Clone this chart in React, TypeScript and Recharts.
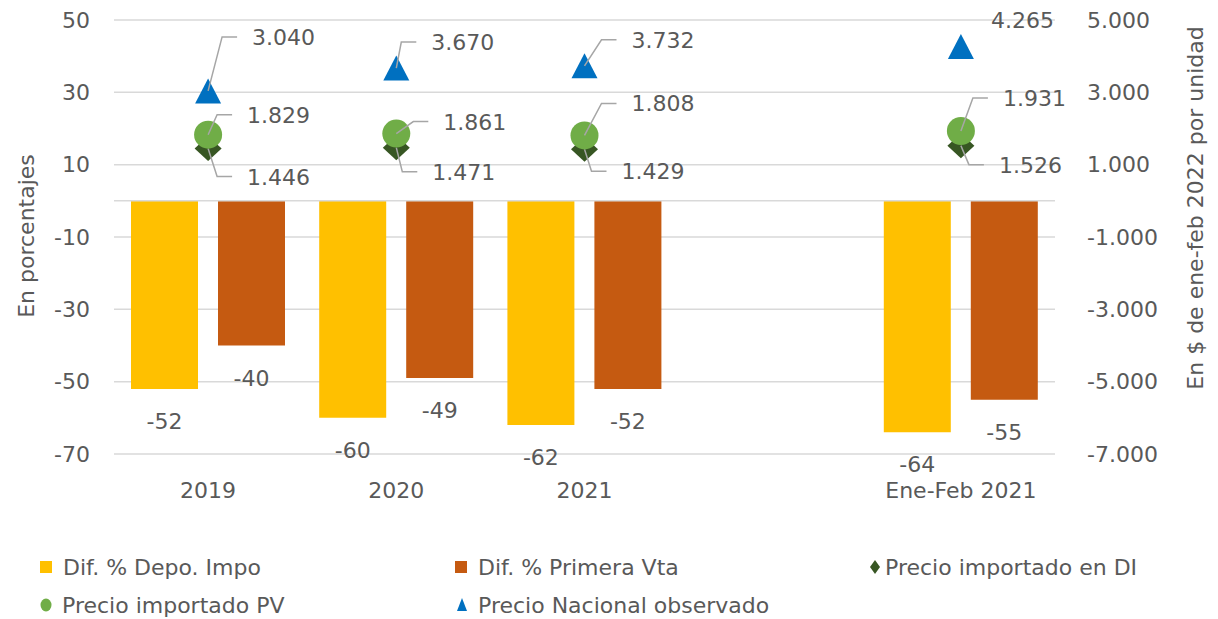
import React from "react";
import {
  ComposedChart,
  Bar,
  Line,
  XAxis,
  YAxis,
  CartesianGrid,
  ReferenceLine,
  LabelList,
} from "recharts";

// ---------- data ----------
const CATEGORIES = ["2019", "2020", "2021", "", "Ene-Feb 2021"];
const DIF_DEPO = [-52, -60, -62, null, -64];
const DIF_PRIMERA = [-40, -49, -52, null, -55];
const PRECIO_DI = [1446, 1471, 1429, null, 1526];
const PRECIO_PV = [1829, 1861, 1808, null, 1931];
const PRECIO_NAC = [3040, 3670, 3732, null, 4265];
const LEFT_TICKS = [-70, -50, -30, -10, 10, 30, 50];
const RIGHT_TICKS = [-7000, -5000, -3000, -1000, 1000, 3000, 5000];
const SERIES_NAMES = [
  "Dif. % Depo. Impo",
  "Dif. % Primera Vta",
  "Precio importado en DI",
  "Precio importado PV",
  "Precio Nacional observado",
];
const LEFT_TITLE = "En porcentajes";
const RIGHT_TITLE = "En $ de ene-feb 2022 por unidad";

// ---------- styling ----------
const FONT = "'DejaVu Sans', sans-serif";
const FS = 22;
const TXT = "#595959";
const GRID = "#d9d9d9";
const LEADER = "#a6a6a6";
const C_DEPO = "#FFC000";
const C_PRIM = "#C55A11";
const C_DI = "#375623";
const C_PV = "#70AD47";
const C_NAC = "#0070C0";

// label offsets (px) relative to marker centre: [text left dx, text centre dy]
const NAC_LABEL_OFFSET = [[44, -54], [35, -26], [47, -26], null, [30, -27]];
const NAC_LEADER = [true, true, true, false, false];
const PV_LABEL_OFFSET = [[39, -20], [47, -12], [47, -32], null, [42, -33]];
const PV_LEADER = [true, true, true, false, true];
const DI_LABEL_OFFSET = [[39, 28], [36, 24], [37, 22], null, [38, 19]];
const DI_LEADER = [true, true, true, false, true];

const data = CATEGORIES.map((c, i) => ({
  cat: c,
  depo: DIF_DEPO[i],
  prim: DIF_PRIMERA[i],
  di: PRECIO_DI[i],
  pv: PRECIO_PV[i],
  nac: PRECIO_NAC[i],
}));

function fmt(n: number): string {
  const neg = n < 0;
  const s = Math.abs(Math.round(n)).toString();
  const parts: string[] = [];
  for (let i = s.length; i > 0; i -= 3) parts.unshift(s.slice(Math.max(0, i - 3), i));
  return (neg ? "-" : "") + parts.join(".");
}

type Shape = "tri" | "circle" | "diamond";

function makeDot(shape: Shape, color: string, offsets: any[], leaders: boolean[]) {
  return (props: any) => {
    const { cx, cy, index, value } = props;
    const v = Array.isArray(value) ? value[1] : value;
    if (v == null || cx == null || cy == null || isNaN(cy)) return <g key={`e-${shape}-${index}`} />;
    let marker: React.ReactNode;
    if (shape === "tri") {
      marker = (
        <polygon
          points={`${cx},${cy - 12.5} ${cx + 13},${cy + 12.5} ${cx - 13},${cy + 12.5}`}
          fill={color}
        />
      );
    } else if (shape === "circle") {
      marker = <circle cx={cx} cy={cy} r={14} fill={color} />;
    } else {
      marker = (
        <polygon
          points={`${cx},${cy - 12.5} ${cx + 13.5},${cy} ${cx},${cy + 12.5} ${cx - 13.5},${cy}`}
          fill={color}
        />
      );
    }
    const off = offsets[index];
    let label: React.ReactNode = null;
    if (off) {
      const tx = cx + off[0];
      const tcy = cy + off[1];
      label = (
        <g>
          {leaders[index] && (
            <polyline
              points={`${cx},${cy} ${tx - 30},${tcy} ${tx - 15},${tcy}`}
              fill="none"
              stroke={LEADER}
              strokeWidth={1.5}
            />
          )}
          <text x={tx} y={tcy + 8} fill={TXT} fontSize={FS} fontFamily={FONT} textAnchor="start">
            {fmt(v)}
          </text>
        </g>
      );
    }
    return (
      <g key={`d-${shape}-${index}`}>
        {marker}
        {label}
      </g>
    );
  };
}

const BarLabel = (props: any) => {
  const { x, y, width, height, value } = props;
  if (value == null) return null;
  const bottom = Math.max(y, y + height);
  return (
    <text
      x={x + width / 2}
      y={bottom + 32 + 8}
      fill={TXT}
      fontSize={FS}
      fontFamily={FONT}
      textAnchor="middle"
    >
      {value}
    </text>
  );
};

const XTick = (props: any) => {
  const { x, y, payload } = props;
  return (
    <text x={x} y={y + 44} fill={TXT} fontSize={FS} fontFamily={FONT} textAnchor="middle">
      {payload.value}
    </text>
  );
};

const LEGEND_ITEMS = [
  { name: SERIES_NAMES[0], color: C_DEPO, shape: "square", x: 40, y: 567 },
  { name: SERIES_NAMES[1], color: C_PRIM, shape: "square", x: 455, y: 567 },
  { name: SERIES_NAMES[2], color: C_DI, shape: "diamond", x: 870, y: 567 },
  { name: SERIES_NAMES[3], color: C_PV, shape: "circle", x: 40, y: 605 },
  { name: SERIES_NAMES[4], color: C_NAC, shape: "tri", x: 456, y: 605 },
];

function LegendMarker({ shape, color, x, y }: any) {
  if (shape === "square") return <rect x={x} y={y - 6} width={12} height={12} fill={color} />;
  if (shape === "diamond")
    return <polygon points={`${x + 5},${y - 7} ${x + 10},${y} ${x + 5},${y + 7} ${x},${y}`} fill={color} />;
  if (shape === "circle") return <ellipse cx={x + 6} cy={y} rx={5.5} ry={6.5} fill={color} />;
  return <polygon points={`${x + 6},${y - 7} ${x + 11},${y + 6} ${x + 1},${y + 6}`} fill={color} />;
}

export default function App() {
  return (
    <div style={{ position: "absolute", left: 0, top: 0, width: 1218, height: 619, background: "#fff" }}>
      <ComposedChart
        width={1218}
        height={619}
        data={data}
        margin={{ top: 20, right: 0, bottom: 0, left: 0 }}
        barGap={20}
        style={{ fontFamily: FONT }}
      >
        <CartesianGrid yAxisId="left" horizontal vertical={false} stroke={GRID} strokeWidth={1.5} />
        <XAxis
          dataKey="cat"
          height={165}
          axisLine={false}
          tickLine={false}
          tickSize={0}
          tickMargin={0}
          interval={0}
          tick={<XTick />}
        />
        <YAxis
          yAxisId="left"
          width={114}
          domain={[-70, 50]}
          ticks={LEFT_TICKS}
          axisLine={false}
          tickLine={false}
          tickSize={0}
          tickMargin={24}
          tick={{ fill: TXT, fontSize: FS, fontFamily: FONT }}
        />
        <YAxis
          yAxisId="right"
          orientation="right"
          width={163}
          domain={[-7000, 5000]}
          ticks={RIGHT_TICKS}
          tickFormatter={fmt}
          axisLine={false}
          tickLine={false}
          tickSize={0}
          tickMargin={32}
          tick={{ fill: TXT, fontSize: FS, fontFamily: FONT }}
        />
        <ReferenceLine yAxisId="left" y={0} stroke={GRID} strokeWidth={1.5} />
        <Bar yAxisId="left" dataKey="depo" fill={C_DEPO} barSize={67} isAnimationActive={false}>
          <LabelList dataKey="depo" content={<BarLabel />} />
        </Bar>
        <Bar yAxisId="left" dataKey="prim" fill={C_PRIM} barSize={67} isAnimationActive={false}>
          <LabelList dataKey="prim" content={<BarLabel />} />
        </Bar>
        <Line
          yAxisId="right"
          dataKey="di"
          stroke="none"
          isAnimationActive={false}
          activeDot={false}
          dot={makeDot("diamond", C_DI, DI_LABEL_OFFSET, DI_LEADER)}
        />
        <Line
          yAxisId="right"
          dataKey="pv"
          stroke="none"
          isAnimationActive={false}
          activeDot={false}
          dot={makeDot("circle", C_PV, PV_LABEL_OFFSET, PV_LEADER)}
        />
        <Line
          yAxisId="right"
          dataKey="nac"
          stroke="none"
          isAnimationActive={false}
          activeDot={false}
          dot={makeDot("tri", C_NAC, NAC_LABEL_OFFSET, NAC_LEADER)}
        />
      </ComposedChart>
      <svg
        width={1218}
        height={619}
        style={{ position: "absolute", left: 0, top: 0, pointerEvents: "none" }}
      >
        <text
          transform={`translate(26, 236) rotate(-90)`}
          textAnchor="middle"
          dominantBaseline="central"
          fill={TXT}
          fontSize={FS}
          fontFamily={FONT}
        >
          {LEFT_TITLE}
        </text>
        <text
          transform={`translate(1195, 208) rotate(-90)`}
          textAnchor="middle"
          dominantBaseline="central"
          fill={TXT}
          fontSize={FS}
          fontFamily={FONT}
        >
          {RIGHT_TITLE}
        </text>
        {LEGEND_ITEMS.map((it, i) => (
          <g key={i}>
            <LegendMarker shape={it.shape} color={it.color} x={it.x} y={it.y} />
            <text
              x={it.x + (it.shape === "square" ? 23 : it.shape === "diamond" ? 15 : 22)}
              y={it.y + 8}
              fill={TXT}
              fontSize={FS}
              fontFamily={FONT}
            >
              {it.name}
            </text>
          </g>
        ))}
      </svg>
    </div>
  );
}
